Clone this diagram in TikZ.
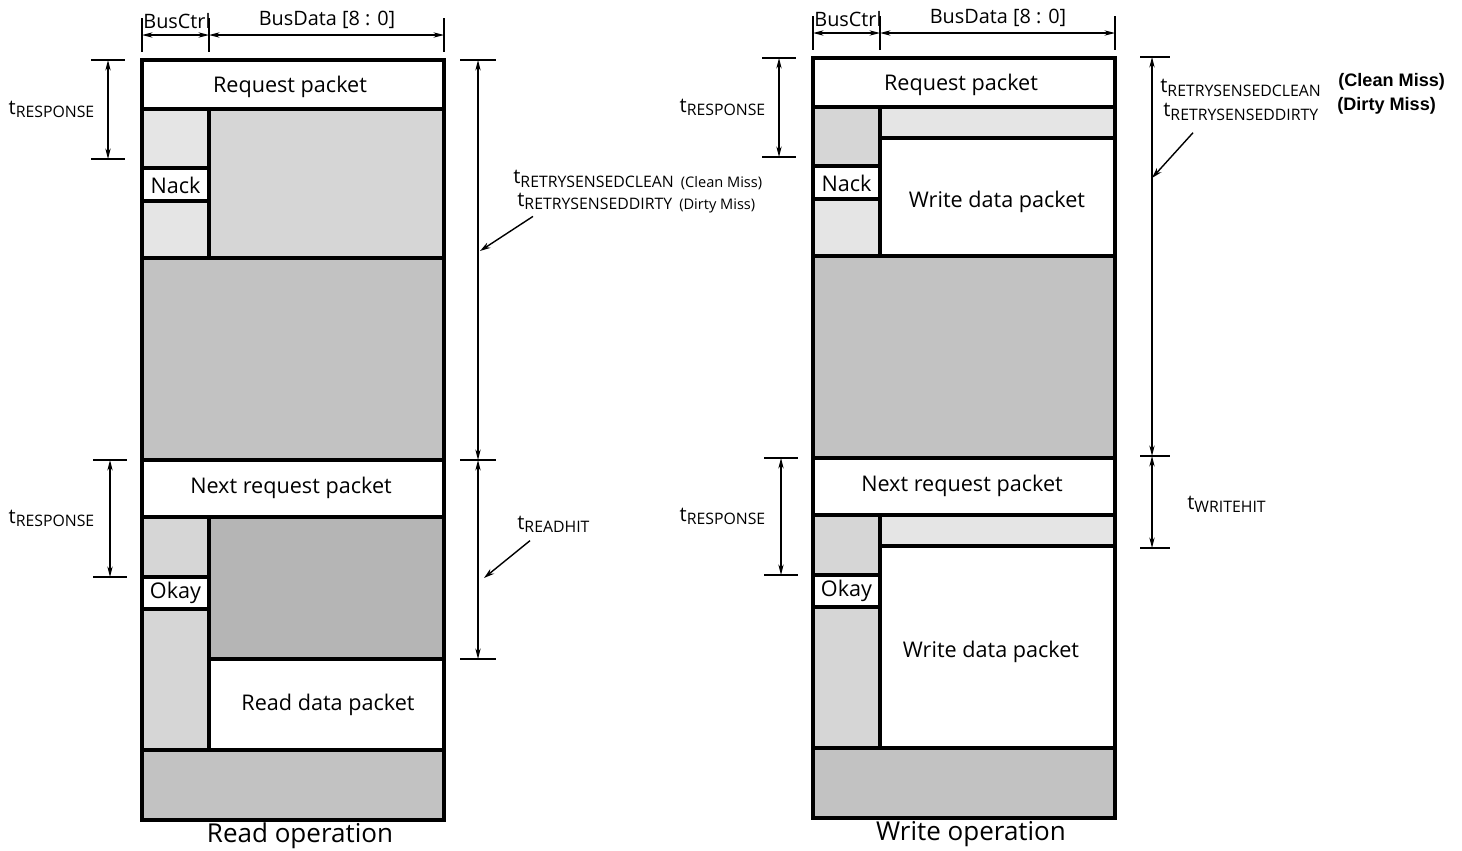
\documentclass[tikz,border=0pt]{standalone}
\usepackage{fontspec}
\setmainfont{Open Sans}
\newfontfamily\notefont{Liberation Sans}
\usetikzlibrary{arrows.meta,positioning,calc}
\tikzset{cellrule/.style={line width=1.8pt,draw=black},
  shadeA/.style={fill=black!10},shadeB/.style={fill=black!16},
  shadeC/.style={fill=black!24},shadeD/.style={fill=black!29},
  pkt/.style={font=\fontsize{12.3}{13}\selectfont,inner sep=0pt},
  buslbl/.style={font=\fontsize{11.3}{12}\selectfont,inner sep=0pt},
  tlbl/.style={font=\fontsize{11.5}{12}\selectfont,inner sep=0pt},
  capt/.style={font=\fontsize{14.8}{16}\selectfont,inner sep=0pt},
  tickline/.style={line width=0.9pt},
  dimline/.style={{Stealth[length=6pt,width=3pt]}-{Stealth[length=6pt,width=3pt]},line width=0.7pt},
  pointer/.style={-{Stealth[length=6pt,width=3.5pt]},line width=0.8pt}}
\newcommand{\tsub}[2][]{t\raisebox{-0.3ex}{\fontsize{9}{9}\selectfont #2\hspace{0.45em}{\fontsize{8.3}{9}\selectfont#1}}}
\newcommand{\buswidths}[1]{%
\coordinate (#1ctlL) at (142,35);
\coordinate (#1ctlR) at (209,35);
\coordinate (#1datR) at (444,35);
\foreach \c in {ctlL,ctlR,datR}
  \draw[tickline] ($(#1\c)+(0,-17)$) -- ($(#1\c)+(0,17)$);
\draw[dimline] (#1ctlL) -- (#1ctlR);
\draw[dimline] (#1ctlR) -- (#1datR);
\node[buslbl] (#1ctl) at (177,21) {BusCtrl};
\node[buslbl] (#1dat) at (327,20) {BusData [8 : 0]};}
\newcommand{\respmark}[5]{%
\coordinate (#1t) at (#2,#3);
\coordinate (#1b) at (#2,#4);
\draw[tickline] ($(#1t)+(-17,0)$) -- ($(#1t)+(17,0)$) ($(#1b)+(-17,0)$) -- ($(#1b)+(17,0)$);
\draw[dimline] (#1t) -- (#1b);
\node[tlbl] (#1lbl) at (#5,{(#3+#4)/2}) {\tsub{RESPONSE}};}
% common frame of one packet diagram
\newcommand{\packetframe}[2]{%
\draw[cellrule] (142,60) rectangle (444,820);
\foreach \y in {109,258,460,517,750} \draw[cellrule] (142,\y) -- (444,\y);
\draw[cellrule] (209,109) -- (209,258) (209,517) -- (209,750);
\foreach \y in {168,201,577,609} \draw[cellrule] (142,\y) -- (209,\y);
\node[pkt] (#1req) at (290,87) {Request packet};
\node[pkt] (#1nack) at (175.5,185) {Nack};
\node[pkt] (#1next) at (291,488) {Next request packet};
\node[pkt] (#1okay) at (175.5,593) {Okay};
\node[capt] (#1cap) at (300,836) {#2};
\buswidths{#1}
\respmark{#1rA}{108}{60}{159}{55}
\respmark{#1rB}{110}{460}{577}{55}}

\begin{document}
\begin{tikzpicture}[x=0.2mm,y=-0.2mm]
\useasboundingbox (0,0) rectangle (1462,851);
% read operation
\fill[shadeB] (209,109) rectangle (444,258);
\fill[shadeA] (142,109) rectangle (209,168) (142,201) rectangle (209,258);
\fill[shadeC] (142,258) rectangle (444,460);
\fill[shadeB] (142,517) rectangle (209,577) (142,609) rectangle (209,750);
\fill[shadeD] (209,517) rectangle (444,659);
\fill[shadeC] (142,750) rectangle (444,820);
\draw[cellrule] (209,659) -- (444,659);
\node[pkt] (rdata) at (328,705) {Read data packet};
\packetframe{rd}{Read operation}
\coordinate (rdT0) at (478,60);
\coordinate (rdT1) at (478,460);
\coordinate (rdT2) at (478,659);
\foreach \c in {rdT0,rdT1,rdT2}
  \draw[tickline] ($(\c)+(-18,0)$) -- ($(\c)+(18,0)$);
\draw[dimline] (rdT0) -- (rdT1);
\draw[dimline] (rdT1) -- (rdT2);
\node[tlbl,anchor=west] (rdclean) at (513,180) {\tsub[(Clean Miss)]{RETRYSENSEDCLEAN}};
\node[tlbl,anchor=west] (rddirty) at (517,203) {\tsub[(Dirty Miss)]{RETRYSENSEDDIRTY}};
\coordinate (rdretrytip) at (480,251);
\draw[pointer] ($(rddirty.south west)+(16,3)$) -- (rdretrytip);
\node[tlbl,anchor=west] (rdhit) at (517,524) {\tsub{READHIT}};
\coordinate (rdhittip) at (484,578);
\draw[pointer] ($(rdhit.south west)+(13,8)$) -- (rdhittip);
% write operation
\begin{scope}[shift={(671,-2)}]
\fill[shadeB] (142,109) rectangle (209,168);
\fill[shadeA] (142,201) rectangle (209,258);
\fill[shadeA] (209,109) rectangle (444,140);
\fill[shadeC] (142,258) rectangle (444,460);
\fill[shadeB] (142,517) rectangle (209,577) (142,609) rectangle (209,750);
\fill[shadeA] (209,517) rectangle (444,548);
\fill[shadeC] (142,750) rectangle (444,820);
\draw[cellrule] (209,140) -- (444,140) (209,548) -- (444,548);
\node[pkt] (wrdataA) at (326,204) {Write data packet};
\node[pkt] (wrdataB) at (320,654) {Write data packet};
\packetframe{wr}{Write operation}
\coordinate (wrT0) at (481,59);
\coordinate (wrT1) at (481,458);
\coordinate (wrT2) at (481,550);
\foreach \c in {wrT0,wrT1,wrT2}
  \draw[tickline] ($(\c)+(-12,0)$) -- ($(\c)+(18,0)$);
\draw[dimline] (wrT0) -- (wrT1);
\draw[dimline] (wrT1) -- (wrT2);
\node[tlbl,anchor=west] (wrclean) at (489,90) {\tsub{RETRYSENSEDCLEAN}};
\node[tlbl,anchor=west] (wrdirty) at (492,114) {\tsub{RETRYSENSEDDIRTY}};
\node[anchor=west,inner sep=0pt,font=\notefont\bfseries\fontsize{10.3}{11}\selectfont] (wrcleannote) at (667,84) {(Clean Miss)};
\node[anchor=west,inner sep=0pt,font=\notefont\bfseries\fontsize{10.3}{11}\selectfont] (wrdirtynote) at (666,108) {(Dirty Miss)};
\coordinate (wrretrytip) at (481,180);
\draw[pointer] ($(wrdirty.south west)+(30,12)$) -- (wrretrytip);
\node[tlbl,anchor=west] (wrhit) at (516,506) {\tsub{WRITEHIT}};
\end{scope}
\end{tikzpicture}
\end{document}
